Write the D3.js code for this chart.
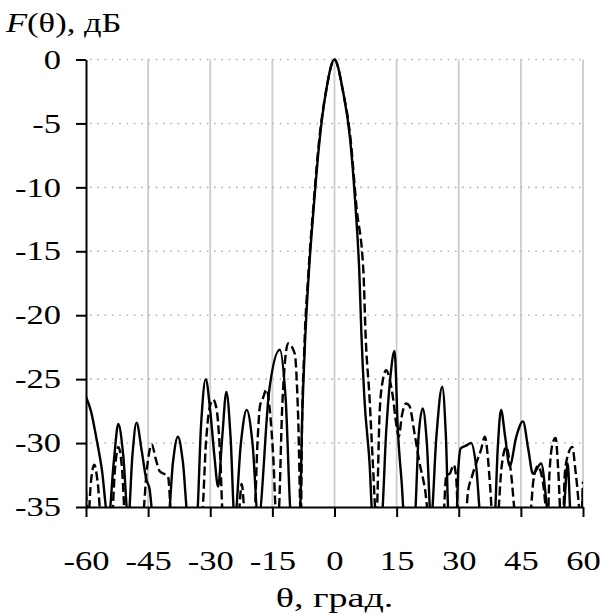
<!DOCTYPE html>
<html>
<head>
<meta charset="utf-8">
<script src="https://cdn.jsdelivr.net/npm/d3@7"></script>
<style>
  html, body { margin: 0; padding: 0; background: #fff; }
  svg { display: block; }
  text { font-family: "Liberation Serif", "Times New Roman", serif; fill: #000; }
</style>
</head>
<body>
<svg width="600" height="616"></svg>
<script>
  // углы и уровни (нули ниже -35 дБ обрезаются осью)
  const xTicks = [-60, -45, -30, -15, 0, 15, 30, 45, 60];
  const yTicks = [0, -5, -10, -15, -20, -25, -30, -35];

  const thetaSolid = [-60, -58.8, -57.5, -56.2, -54.6, -53.3, -52.2, -51.0, -49.8, -48.8, -47.8, -46.6, -45.4, -44.7, -43.7,
    -40.2, -39.0, -37.8, -36.6, -35.3, -33.3, -32.2, -31.1, -30.0, -29.0, -28.1, -27.1, -26.1, -25.1, -24.1,
    -22.6, -21.2, -19.8, -18.4, -15.8, -13.2, -11.8, -10.4, -8.4, -7.8, -7.1, -6.2, -5.0, -3.6, -2.0, 0,
    2.0, 3.8, 5.07, 6.0, 6.5, 7.2, 8.45, 9.25, 11.3, 12.5, 13.5, 14.5, 15.3, 16.2, 16.9, 19.3, 20.3, 21.3, 22.3, 23.3,
    24.6, 26.0, 26.9, 27.6, 29.4, 29.9, 30.5, 31.8, 33.0, 34.2, 35.4, 38.6, 39.4, 40.2, 41.2, 42.3, 43.9, 45.5,
    46.8, 47.9, 49.9, 51.9, 55.1, 56.3, 57.1, 59.6, 60];
  const solidDb = [-26.4, -27.5, -29.6, -32.0, -36, -31.5, -28.5, -31.0, -36, -31.0, -28.4, -30.5, -32.9, -33.5, -36,
    -36, -31.5, -29.5, -31.5, -36, -36, -28.5, -25.0, -27.5, -31.0, -33.4, -29.5, -26.0, -29.5, -36,
    -30.0, -27.4, -30.0, -36, -26.0, -22.7, -26.5, -36, -36, -28, -22, -16.7, -11.5, -6.3, -2.4, 0,
    -2.4, -6.3, -11.5, -16.7, -21.5, -26.4, -31.5, -36, -36, -29.0, -24.8, -22.8, -29.0, -33.0, -36, -36, -29.5, -27.3, -30.0, -36,
    -29.5, -25.6, -29.5, -36, -36, -32.0, -30.4, -30.2, -30.0, -31.8, -36, -36, -30.5, -27.4, -29.5, -31.8, -29.5, -28.3,
    -30.5, -32.4, -31.6, -36, -36, -31.6, -36, -36, -33.5];

  const thetaDashed = [-60, -59.5, -58.8, -58.0, -57.2, -56.3, -53.8, -53.0, -52.2, -51.3, -50.5,
    -46.4, -45.3, -44.1, -43.2, -42.2, -41.2, -40.2, -39.3, -32.1, -31.0, -30.2, -29.3, -28.4, -27.6, -26.9,
    -23.3, -22.4, -21.5, -19.4, -18.6, -18.0, -17.3, -16.4, -15.6, -14.8, -14.0, -13.6, -12.6, -11.2, -9.6, -8.8, -8.1,
    -7.9, -7.3, -6.3, -5.1, -3.7, -2.0, 0, 2.0, 3.9, 5.3, 7.0, 7.5, 8.45, 9.25, 10.1,
    10.9, 11.6, 12.5, 13.3, 14.1, 14.9, 15.5, 16.3, 17.3, 18.1, 19.3, 20.5, 21.8, 22.9,
    26.2, 27.0, 27.8, 28.8, 29.4, 29.9, 31.6, 32.2, 33.2, 34.2, 35.4, 36.3, 37.0, 37.6, 38.2,
    39.3, 40.3, 41.5, 42.5, 43.9, 47.1, 48.0, 49.1, 50.3, 51.5, 51.9, 52.7, 53.4, 54.0, 54.7,
    55.2, 55.6, 56.5, 57.4, 58.3, 59.6, 60];
  const dashedDb = [-33.8, -36, -33.0, -31.7, -33.0, -36, -36, -32.0, -30.3, -32.0, -36,
    -36, -32.0, -30.1, -31.2, -32.2, -32.4, -32.6, -36, -36, -29.8, -27.3, -26.6, -27.5, -31.0, -36,
    -36, -33.2, -36, -36, -30.0, -27.1, -26.5, -25.8, -27.5, -31.0, -36, -36, -27.0, -22.2, -23.0, -27.7, -36,
    -30, -22.7, -16.7, -11.5, -6.3, -2.4, 0, -2.4, -6.3, -11.5, -16.7, -21.5, -26.4, -31.5, -36,
    -27.6, -25.2, -24.3, -25.0, -26.4, -28.5, -29.5, -27.8, -26.9, -27.1, -29.2, -31.5, -33.5, -36,
    -36, -32.5, -32.4, -31.7, -32.8, -36, -36, -33.9, -32.6, -31.6, -30.5, -29.5, -31.0, -33.5, -36,
    -36, -32.0, -30.3, -32.0, -36, -36, -33.0, -31.8, -33.0, -36, -32.4, -30.0, -29.6, -32.0, -36,
    -36, -32.4, -30.8, -30.3, -32.5, -36, -33.0];

  const svg = d3.select("svg");
  const plotL = 86, plotR = 583, plotT = 59.5, plotB = 507;
  const stretch = 1.28; // текст на исходной картинке растянут по горизонтали

  const x = d3.scaleLinear().domain([-60, 60]).range([plotL, plotR]);
  const y = d3.scaleLinear().domain([-35, 0]).range([plotB, plotT]);

  // сетка
  svg.append("g").selectAll("line")
    .data(xTicks.filter(d => d !== -60))
    .enter().append("line")
    .attr("x1", d => x(d)).attr("x2", d => x(d))
    .attr("y1", plotT).attr("y2", plotB)
    .style("stroke", "#cccccc").style("stroke-width", "1.8px");

  svg.append("g").selectAll("line")
    .data(yTicks.filter(d => d !== -35))
    .enter().append("line")
    .attr("x1", plotL + 4).attr("x2", plotR)
    .attr("y1", d => y(d)).attr("y2", d => y(d))
    .style("stroke", "#b4b4b4").style("stroke-width", "1.6px")
    .style("stroke-dasharray", "1.6,5.7");

  svg.append("clipPath").attr("id", "plot")
    .append("rect").attr("x", plotL).attr("y", plotT - 6)
    .attr("width", plotR - plotL).attr("height", plotB - plotT + 6);

  const line = d3.line()
    .x(d => x(d[0]))
    .y(d => y(d[1]))
    .curve(d3.curveMonotoneX);

  const curves = svg.append("g").attr("clip-path", "url(#plot)");
  curves.append("path")
    .datum(d3.zip(thetaDashed, dashedDb))
    .attr("d", line)
    .style("fill", "none").style("stroke", "#000").style("stroke-width", "2.4px")
    .style("stroke-dasharray", "9,4");
  curves.append("path")
    .datum(d3.zip(thetaSolid, solidDb))
    .attr("d", line)
    .style("fill", "none").style("stroke", "#000").style("stroke-width", "2.4px");

  // оси
  const xAxis = svg.append("g").attr("transform", `translate(0,${plotB})`)
    .call(d3.axisBottom(x).tickValues(xTicks).tickSize(10).tickSizeOuter(0)
      .tickPadding(34).tickFormat(d => String(d)));
  const yAxis = svg.append("g").attr("transform", `translate(${plotL},0)`)
    .call(d3.axisLeft(y).tickValues(yTicks).tickSize(10).tickSizeOuter(0)
      .tickPadding(15).tickFormat(d => String(d)));

  [xAxis, yAxis].forEach(a => {
    a.select(".domain").style("stroke", "#000").style("stroke-width", "2px");
    a.selectAll(".tick line").style("stroke", "#000").style("stroke-width", "2px");
    a.selectAll(".tick text")
      .style("font-family", "'Liberation Serif', serif")
      .style("font-size", "27px").style("fill", "#000")
      .attr("transform", `scale(${stretch},1)`);
  });
  yAxis.selectAll(".tick text").attr("x", -25 / stretch);

  // подписи осей
  const yLabel = svg.append("text")
    .attr("transform", `translate(6,32) scale(${stretch},1)`)
    .style("font-size", "27px");
  yLabel.append("tspan").style("font-style", "italic").text("F");
  yLabel.append("tspan").text("(θ), дБ");

  svg.append("text")
    .attr("transform", `translate(${x(0)},607) scale(1.36,1)`)
    .attr("text-anchor", "middle")
    .style("font-size", "28px")
    .text("θ, град.");
</script>
</body>
</html>
